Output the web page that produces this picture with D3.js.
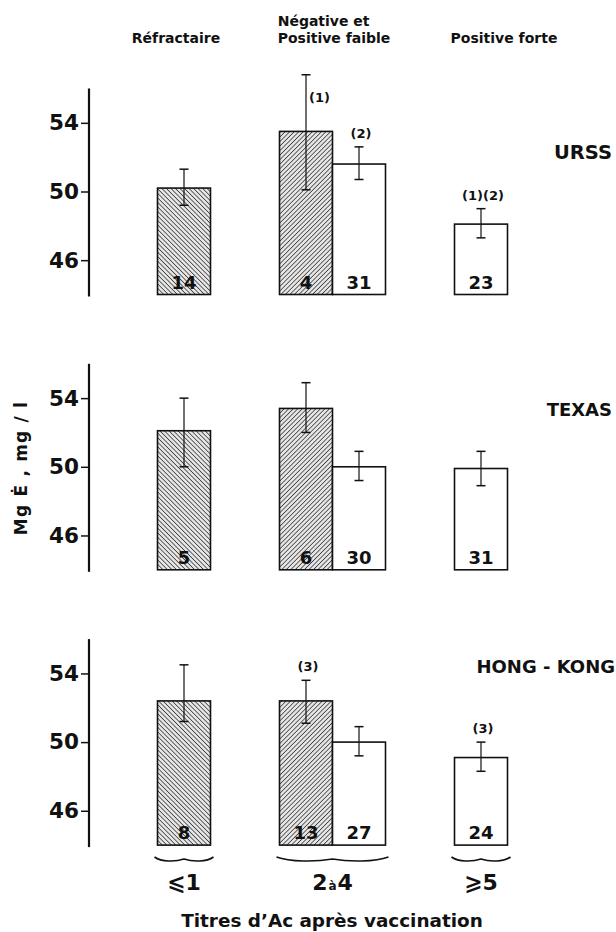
<!DOCTYPE html>
<html><head><meta charset="utf-8">
<script src="https://cdn.jsdelivr.net/npm/d3@7"></script>
<style>
html,body{margin:0;padding:0;background:#fff;}
svg{display:block;}
text{font-family:"DejaVu Sans",sans-serif;font-weight:bold;fill:#111;}
</style></head>
<body>
<script>
// ---- data ----
const groups = ["⩽1", "2à4", "⩾5"];
const headers = ["Réfractaire", "Négative et|Positive faible", "Positive forte"];
const regions = ["URSS", "TEXAS", "HONG - KONG"];
const barGroup = ["⩽1", "2à4", "2à4", "⩾5"];
const barType = ["Réfractaire", "Négative", "Positive faible", "Positive forte"];
const yTicks = [46, 50, 54];

const meanURSS  = [50.2, 53.5, 51.6, 48.1];
const hiURSS    = [51.3, 56.8, 52.6, 49.0];
const loURSS    = [49.2, 50.1, 50.7, 47.3];
const nURSS     = [14, 4, 31, 23];

const meanTexas = [52.1, 53.4, 50.0, 49.9];
const hiTexas   = [54.0, 54.9, 50.9, 50.9];
const loTexas   = [50.0, 52.0, 49.2, 48.9];
const nTexas    = [5, 6, 30, 31];

const meanHK    = [52.4, 52.4, 50.0, 49.1];
const hiHK      = [54.5, 53.6, 50.9, 50.0];
const loHK      = [51.2, 51.1, 49.2, 48.3];
const nHK       = [8, 13, 27, 24];

const notePanel = [0, 0, 0, 2, 2];
const noteBar   = [1, 2, 3, 1, 3];
const noteText  = ["(1)", "(2)", "(1)(2)", "(3)", "(3)"];
const notePlace = ["right", "above", "above", "above", "above"];

// ---- layout ----
const W = 616, H = 932;
const L = {
  axisX: 89, panelTop0: 88.5, panelStep: 275.3, panelH: 206,
  barW: 53, groupX: [184, 481],
  regionRight: [612, 612, 615], regionBase: [159, 416, 672.7],
  braceY: 860, groupLabelY: 890, titleY: 927
};

const panels = [
  {mean: meanURSS, hi: hiURSS, lo: loURSS, n: nURSS},
  {mean: meanTexas, hi: hiTexas, lo: loTexas, n: nTexas},
  {mean: meanHK, hi: hiHK, lo: loHK, n: nHK}
];

const svg = d3.select("body").append("svg").attr("width", W).attr("height", H);
const defs = svg.append("defs");
function hatch(id, angle) {
  const p = defs.append("pattern").attr("id", id).attr("patternUnits", "userSpaceOnUse")
    .attr("width", 3.2).attr("height", 3.2).attr("patternTransform", `rotate(${angle})`);
  p.append("rect").attr("width", 3.2).attr("height", 3.2).attr("fill", "#e6e6e6");
  p.append("line").attr("x1", 0).attr("y1", 0).attr("x2", 0).attr("y2", 3.2)
    .attr("stroke", "#1a1a1a").attr("stroke-width", 1.3);
}
hatch("hBack", -45);
hatch("hFwd", 45);
const fillOf = {"Réfractaire": "url(#hBack)", "Négative": "url(#hFwd)", "Positive faible": "#fff", "Positive forte": "#fff"};

const xG = d3.scalePoint().domain(groups).range(L.groupX);
function barX(i) {
  const g = barGroup[i];
  const members = barType.filter((t, j) => barGroup[j] === g);
  const c = xG(g);
  const sub = d3.scaleBand().domain(members).range([c - members.length * L.barW / 2, c + members.length * L.barW / 2]);
  return sub(barType[i]);
}

// headers
const hdr = svg.append("g");
hdr.append("text").attr("x", 176).attr("y", 43).attr("text-anchor", "middle").attr("font-size", 14).text(headers[0]);
const h2 = headers[1].split("|");
hdr.append("text").attr("x", 277.7).attr("y", 26).attr("font-size", 14).text(h2[0]);
hdr.append("text").attr("x", 277.7).attr("y", 43).attr("font-size", 14).text(h2[1]);
hdr.append("text").attr("x", 504).attr("y", 43).attr("text-anchor", "middle").attr("font-size", 14).text(headers[2]);

panels.forEach((P, pi) => {
  const top = L.panelTop0 + pi * L.panelStep;
  const y = d3.scaleLinear().domain([44, 56]).range([top + L.panelH, top]);
  const g = svg.append("g");

  const ax = g.append("g").attr("transform", `translate(${L.axisX},0)`)
    .call(d3.axisLeft(y).tickValues(yTicks).tickSize(8).tickSizeOuter(0).tickPadding(2));
  ax.select(".domain").attr("stroke", "#111").attr("stroke-width", 2.2).attr("d", `M0,${y(44) + 2}V${y(56)}`);
  ax.selectAll(".tick line").attr("stroke", "#111").attr("stroke-width", 1.5);
  ax.selectAll(".tick text").attr("font-size", 21.5).attr("font-family", "DejaVu Sans").attr("font-weight", "bold").attr("fill", "#111");

  const idx = d3.range(P.mean.length);
  g.selectAll("rect.bar").data(idx).join("rect").attr("class", "bar")
    .attr("x", i => barX(i)).attr("width", L.barW)
    .attr("y", i => y(P.mean[i])).attr("height", i => y(44) - y(P.mean[i]))
    .attr("fill", i => fillOf[barType[i]]).attr("stroke", "#111").attr("stroke-width", 1.6);

  // counts
  g.selectAll("text.n").data(idx).join("text").attr("class", "n")
    .attr("x", i => barX(i) + L.barW / 2).attr("y", y(44) - 6)
    .attr("text-anchor", "middle").attr("font-size", 18).text(i => P.n[i]);

  // error bars
  const eb = g.selectAll("g.eb").data(idx).join("g").attr("class", "eb")
    .attr("stroke", "#111").attr("stroke-width", 1.2);
  eb.append("line").attr("x1", i => barX(i) + L.barW / 2).attr("x2", i => barX(i) + L.barW / 2)
    .attr("y1", i => y(P.hi[i])).attr("y2", i => y(P.lo[i]));
  [P.hi, P.lo].forEach(arr => {
    eb.append("line").attr("x1", i => barX(i) + L.barW / 2 - 4.5).attr("x2", i => barX(i) + L.barW / 2 + 4.5)
      .attr("y1", i => y(arr[i])).attr("y2", i => y(arr[i])).attr("stroke-width", 1.5);
  });

  // notes
  noteText.forEach((t, k) => {
    if (notePanel[k] !== pi) return;
    const b = noteBar[k];
    const cx = barX(b) + L.barW / 2;
    const right = notePlace[k] === "right";
    g.append("text").attr("x", right ? cx + 13.5 : cx + 2).attr("y", right ? y(P.hi[b]) + 27 : y(P.hi[b]) - 9)
      .attr("text-anchor", "middle").attr("font-size", 13).text(t);
  });

  // region label
  g.append("text").attr("x", L.regionRight[pi]).attr("y", L.regionBase[pi])
    .attr("text-anchor", "end").attr("font-size", pi === 0 ? 19.5 : 18).text(regions[pi]);
});

// y-axis title
svg.append("text").attr("transform", "translate(27,468) rotate(-90)")
  .attr("text-anchor", "middle").attr("font-size", 17).attr("letter-spacing", 1.2)
  .text("Mg  Ė , mg / l");

// braces and group labels
groups.forEach(gname => {
  const idxs = d3.range(barGroup.length).filter(i => barGroup[i] === gname);
  const x0 = barX(idxs[0]) - 3, x1 = barX(idxs[idxs.length - 1]) + L.barW + 3;
  const w = x1 - x0, xc = (x0 + x1) / 2, yb = L.braceY;
  const path = `M${x0},${yb - 3} C${x0 + w * 0.12},${yb + 2} ${x0 + w * 0.35},${yb + 2} ${xc},${yb - 1}` +
               ` C${x1 - w * 0.35},${yb + 2} ${x1 - w * 0.12},${yb + 2} ${x1},${yb - 3}`;
  svg.append("path").attr("d", path).attr("fill", "none").attr("stroke", "#111").attr("stroke-width", 1.6);

  const t = svg.append("text").attr("x", xG(gname)).attr("y", L.groupLabelY).attr("text-anchor", "middle").attr("font-size", 22);
  if (gname === "2à4") {
    t.append("tspan").text("2");
    t.append("tspan").attr("font-size", 12).attr("dx", 1).text("à");
    t.append("tspan").attr("dx", 1).text("4");
  } else {
    t.text(gname);
  }
});

svg.append("text").attr("x", 332).attr("y", L.titleY).attr("text-anchor", "middle")
  .attr("font-size", 18.4).text("Titres d’Ac après vaccination");
</script>
</body></html>
